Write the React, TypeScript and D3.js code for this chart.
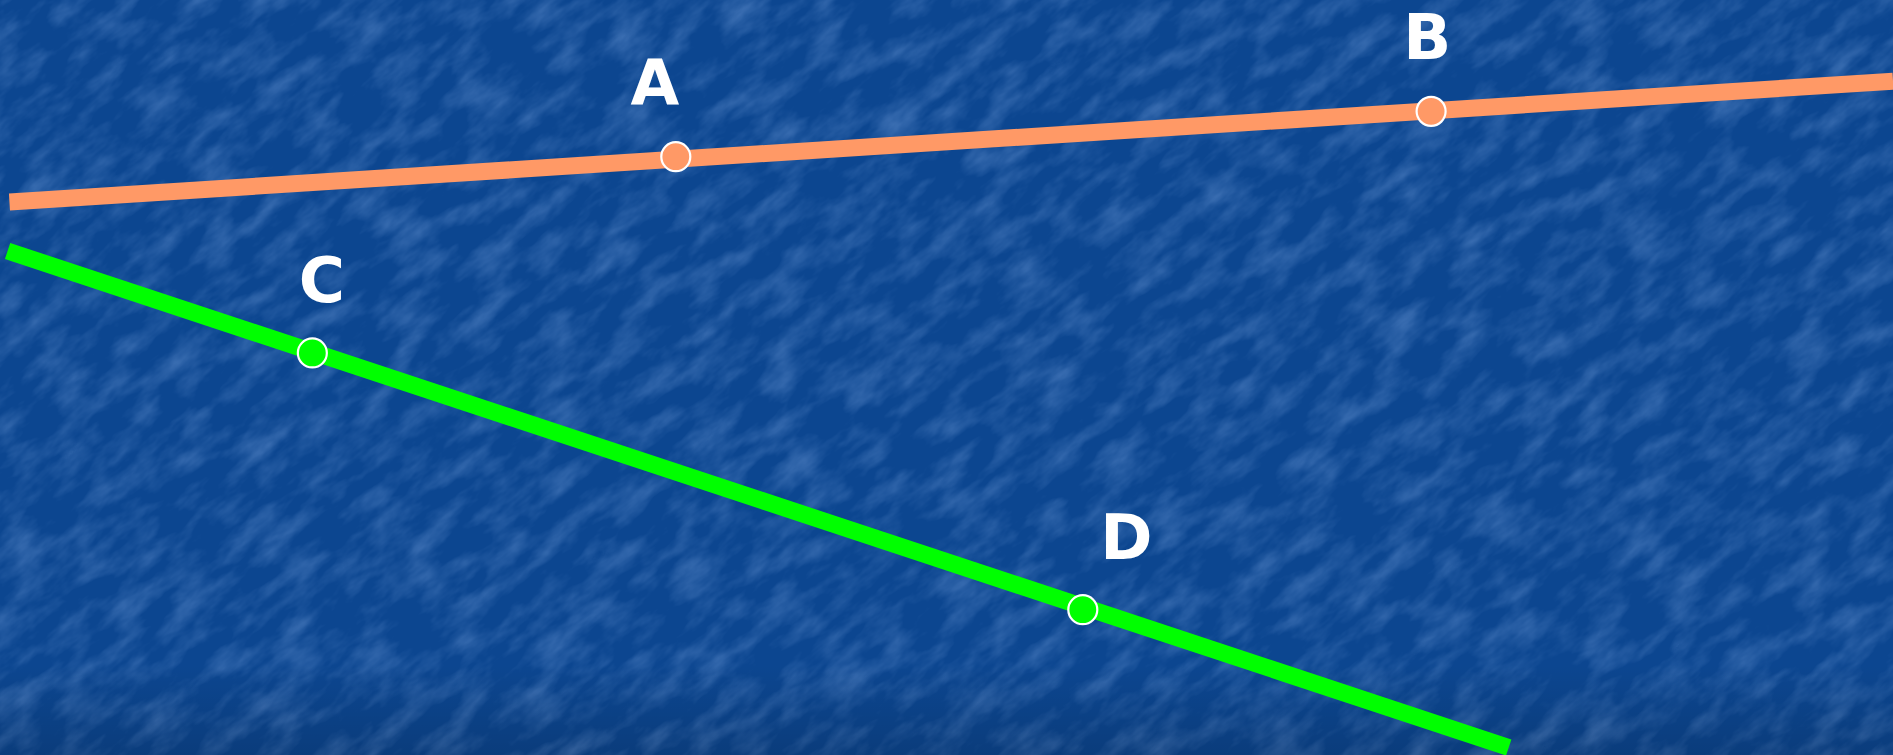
import React from 'react'
import * as d3 from 'd3'

const width = 1893
const height = 755

// two lines, given by their end points (diagram units)
const lineColors = ['#ff9966', '#00ff00']
const lineX0 = [0.5, 0.4]
const lineY0 = [29.3, 26.7]
const lineX1 = [100, 79.7]
const lineY1 = [35.7, 0.4]
const lineWidths = [17, 17]

// labelled points sitting on the lines
const pointNames = ['A', 'B', 'C', 'D']
const pointX = [35.7, 75.6, 16.5, 57.2]
const pointY = [31.7, 34.1, 21.3, 7.7]
const pointLine = [0, 0, 1, 1]
const labelX = [34.6, 75.4, 17.0, 59.5]
const labelY = [34.5, 36.9, 24.0, 10.4]

const App = () => {
  const x = d3.scaleLinear().domain([0, 100]).range([0, width])
  const y = d3.scaleLinear().domain([0, 40]).range([height, 0])
  const line = d3.line<[number, number]>().x(d => x(d[0])).y(d => y(d[1]))

  return (
    <svg
      width={width}
      height={height}
      style={{ position: 'fixed', left: 0, top: 0, display: 'block' }}
    >
      <defs>
        <filter id="marble" x="0" y="0" width="100%" height="100%">
          <feTurbulence type="fractalNoise" baseFrequency="0.02 0.05" numOctaves={4} seed={3} />
          <feColorMatrix
            type="matrix"
            values="0 0 0 0 0.3
                    0 0 0 0 0.5
                    0 0 0 0 0.9
                    1.8 0 0 0 -0.72"
          />
        </filter>
        <linearGradient id="bottomShade" x1="0" y1="0" x2="0" y2="1">
          <stop offset="0" stopColor="#000" stopOpacity={0} />
          <stop offset="1" stopColor="#000" stopOpacity={0.14} />
        </linearGradient>
      </defs>

      <rect width={width} height={height} fill="#0c4690" />
      <g transform={`rotate(-40 ${width / 2} ${height / 2})`}>
        <rect x={-600} y={-900} width={width + 1200} height={height + 1800} filter="url(#marble)" opacity={0.35} />
      </g>
      <rect y={665} width={width} height={height - 665} fill="url(#bottomShade)" />

      {lineColors.map((c, i) => (
        <path
          key={i}
          d={line([[lineX0[i], lineY0[i]], [lineX1[i], lineY1[i]]]) || ''}
          stroke={c}
          strokeWidth={lineWidths[i]}
          fill="none"
        />
      ))}

      {pointNames.map((n, i) => (
        <g key={n}>
          <circle
            cx={x(pointX[i])}
            cy={y(pointY[i])}
            r={14.5}
            fill={lineColors[pointLine[i]]}
            stroke="#fff"
            strokeWidth={2.2}
          />
          <text
            x={x(labelX[i])}
            y={y(labelY[i])}
            textAnchor="middle"
            fill="#fff"
            fontFamily="'DejaVu Sans', sans-serif"
            fontWeight="bold"
            fontSize={63}
          >
            {n}
          </text>
        </g>
      ))}
    </svg>
  )
}

export default App
